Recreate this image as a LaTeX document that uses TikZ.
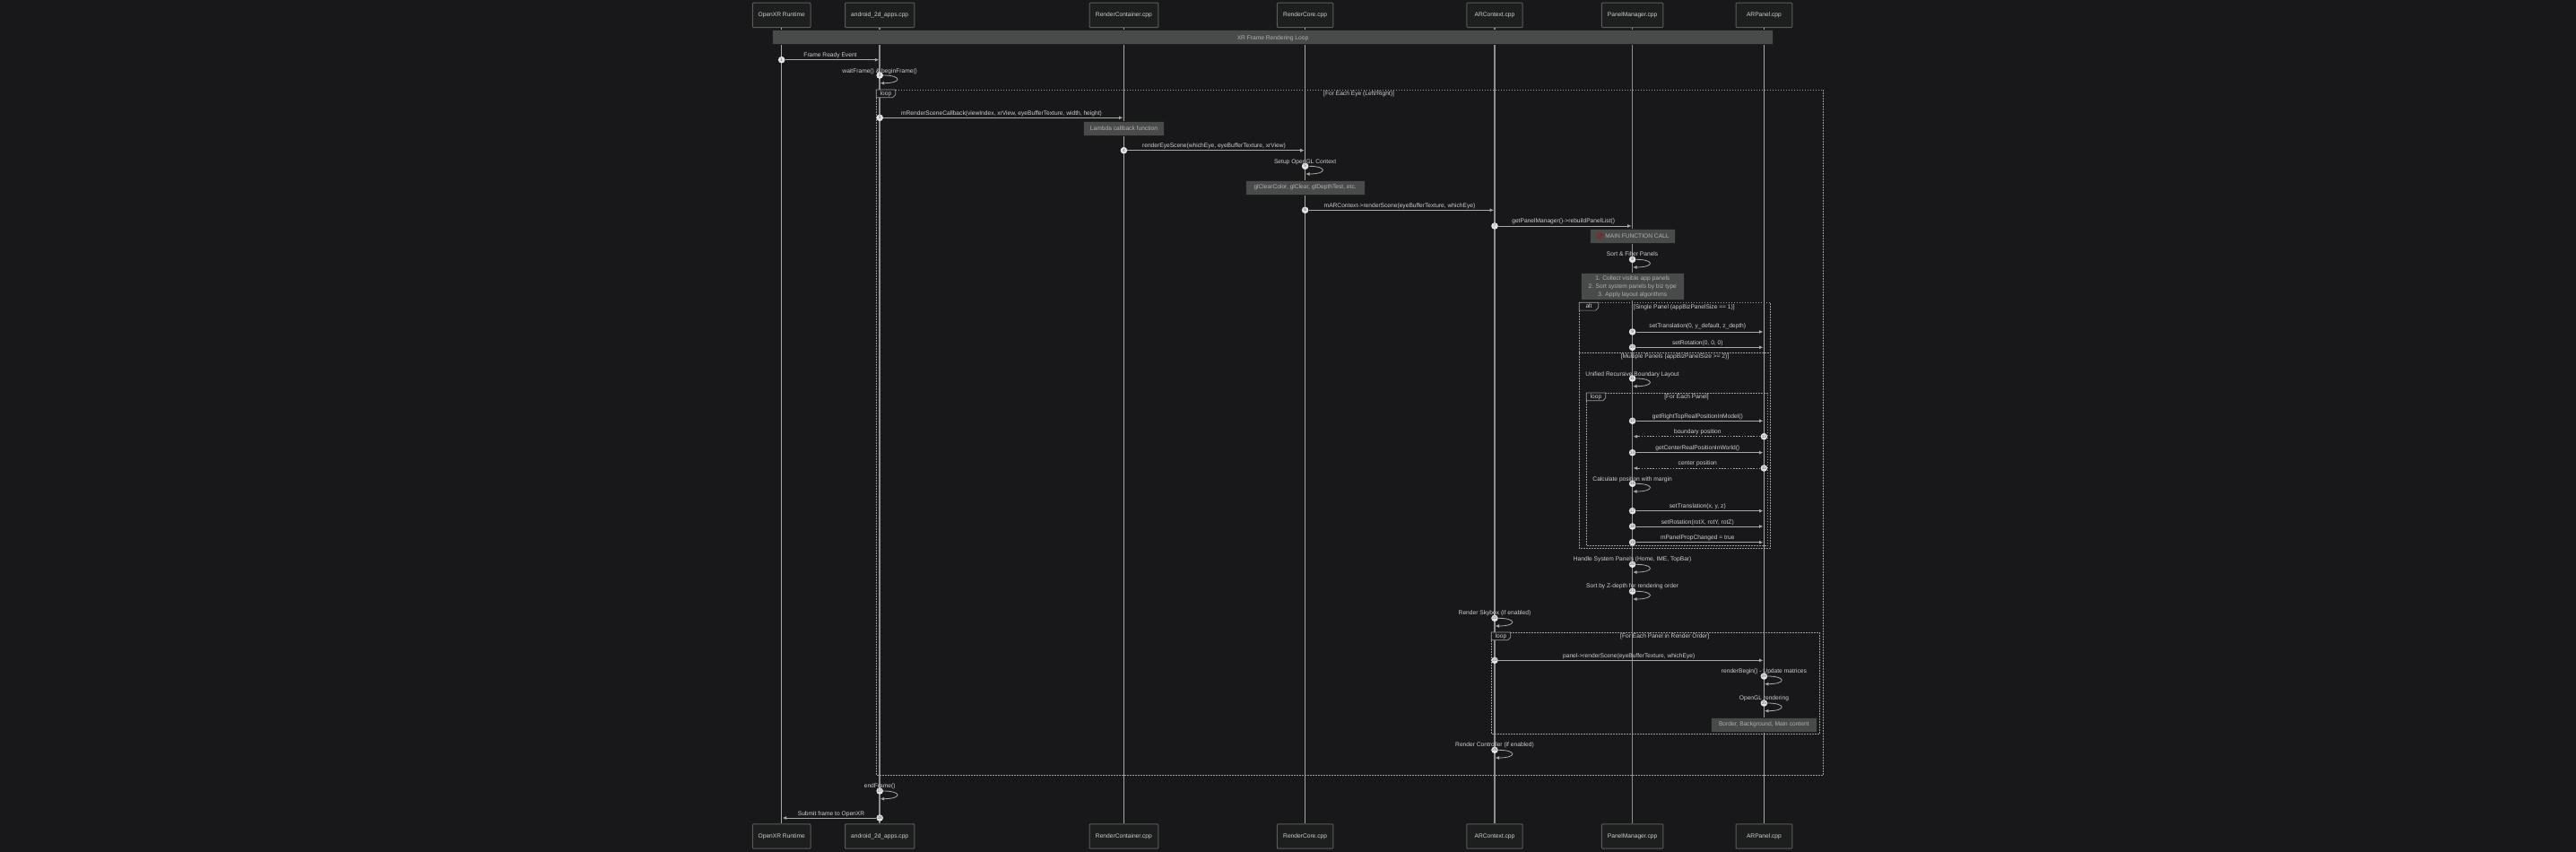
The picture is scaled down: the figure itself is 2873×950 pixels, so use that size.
\documentclass[tikz,border=0pt]{standalone}
\usepackage{fontspec}
\setmainfont{Liberation Sans}
\newfontfamily\emojifont{Noto Emoji}
\usetikzlibrary{arrows.meta}
\definecolor{bgc}{HTML}{18181B}
\definecolor{boxfill}{HTML}{1C1F1E}
\definecolor{boxline}{HTML}{5A5A5A}
\definecolor{notefill}{HTML}{494B4B}
\definecolor{textc}{HTML}{CFCFCF}
\definecolor{lifec}{HTML}{A8A8A8}
\definecolor{dotc}{HTML}{E4E4E4}
\definecolor{framec}{HTML}{9A9A9A}
\tikzset{
  basefont/.style={font=\fontsize{6.65}{7}\selectfont},
  participant/.style={draw=boxline,fill=boxfill,line width=1pt,rounded corners=1pt,inner sep=0pt,text=textc,basefont,minimum height=27.4pt},
  lifeline/.style={draw=lifec,line width=1pt},
  lifethick/.style={draw=lifec!85!black,line width=1.5pt},
  numdot/.style={circle,fill=dotc,inner sep=0pt,minimum size=7.6pt,text=black!60,font=\fontsize{4.8}{5}\selectfont},
  msgline/.style={draw=lifec,line width=1pt,-{Latex[length=4.4pt,width=4pt]},shorten >=1pt},
  backline/.style={draw=lifec,line width=1pt,dash pattern=on 1.6pt off 1.6pt,-{Latex[length=4.4pt,width=4pt]},shorten >=1pt},
  selfline/.style={draw=lifec,line width=.8pt,-{Latex[length=4.4pt,width=4pt]}},
  msglabel/.style={text=textc,basefont,inner sep=0pt,text height=5pt,text depth=1.4pt},
  notebox/.style={fill=notefill,draw=black!60!notefill,line width=.5pt,text=textc!85!black,basefont,inner sep=0pt,align=center},
  framebox/.style={draw=framec,line width=.8pt,dash pattern=on 1.5pt off 1.5pt},
  framedivider/.style={draw=framec,line width=.8pt,dash pattern=on 1.5pt off 1.5pt},
  tabline/.style={draw=framec,line width=.7pt,fill=bgc},
}
\def\xA{871.7}\def\xB{981.2}\def\xC{1253.4}\def\xD{1455.6}\def\xE{1667}\def\xF{1820.6}\def\xG{1967.4}
% num, from x, to x, y, label x, label y, text
\newcommand{\callmsg}[7]{%
  \node[numdot] (n#1) at (#2,#4) {#1};
  \coordinate (e#1) at (#3,#4);
  \draw[msgline] (n#1) -- (e#1);
  \node[msglabel] at (#5,#6) {#7};}
\newcommand{\replymsg}[7]{%
  \node[numdot] (n#1) at (#2,#4) {#1};
  \coordinate (e#1) at (#3,#4);
  \draw[backline] (n#1) -- (e#1);
  \node[msglabel] at (#5,#6) {#7};}
% num, x, y, label y, text
\newcommand{\selfmsg}[5]{%
  \node[numdot] (n#1) at (#2,#3) {#1};
  \coordinate (e#1) at (#2+.6,#3+8.7);
  \draw[selfline] (n#1.east) .. controls (#2+25,#3) and (#2+25,#3+8.7) .. (e#1);
  \node[msglabel] at (#2,#4) {#5};}
% left, right, top, bottom, tab right, kind
\newcommand{\framekind}[6]{%
  \draw[framebox] (#1,#3) rectangle (#2,#4);
  \draw[tabline] (#1,#3) -- (#5,#3) -- (#5,#3+5.6) -- (#5-3,#3+8.8) -- (#1,#3+8.8) -- cycle;
  \node[msglabel] at ({(#1+#5)/2},#3+4.6) {#6};}
\begin{document}
\begin{tikzpicture}[x=1pt,y=-1pt]
\useasboundingbox (0,0) rectangle (2873,950);
\fill[bgc] (0,0) rectangle (2873,950);
% participants
\node[participant,minimum width=64.6pt] (pAt) at (\xA,16.9) {OpenXR Runtime};
\node[participant,minimum width=77.4pt] (pBt) at (\xB,16.9) {android\_2d\_apps.cpp};
\node[participant,minimum width=76.8pt] (pCt) at (\xC,16.9) {RenderContainer.cpp};
\node[participant,minimum width=62.4pt] (pDt) at (\xD,16.9) {RenderCore.cpp};
\node[participant,minimum width=62.4pt] (pEt) at (\xE,16.9) {ARContext.cpp};
\node[participant,minimum width=68.4pt] (pFt) at (\xF,16.9) {PanelManager.cpp};
\node[participant,minimum width=62.8pt] (pGt) at (\xG,16.9) {ARPanel.cpp};
\node[participant,minimum width=64.6pt] (pAb) at (\xA,932.5) {OpenXR Runtime};
\node[participant,minimum width=77.4pt] (pBb) at (\xB,932.5) {android\_2d\_apps.cpp};
\node[participant,minimum width=76.8pt] (pCb) at (\xC,932.5) {RenderContainer.cpp};
\node[participant,minimum width=62.4pt] (pDb) at (\xD,932.5) {RenderCore.cpp};
\node[participant,minimum width=62.4pt] (pEb) at (\xE,932.5) {ARContext.cpp};
\node[participant,minimum width=68.4pt] (pFb) at (\xF,932.5) {PanelManager.cpp};
\node[participant,minimum width=62.8pt] (pGb) at (\xG,932.5) {ARPanel.cpp};
% lifelines
\draw[lifeline] (pAt) -- (pAb);
\draw[lifethick] (pBt) -- (pBb);
\draw[lifeline] (pCt) -- (pCb);
\draw[lifeline] (pDt) -- (pDb);
\draw[lifethick] (pEt) -- (pEb);
\draw[lifethick] (pFt) -- (pFb);
\draw[lifeline] (pGt) -- (pGb);
% top note
\node[notebox,minimum width=1116.4pt,minimum height=15.6pt,text height=6.6pt,text depth=0pt] (noteTop) at (1419.5,41.3) {XR Frame Rendering Loop};
% frames
\framekind{977.3}{2033.4}{100}{864.3}{998.7}{loop}
\node[msglabel] (fEye) at (1515.5,105) {[For Each Eye (Left/Right)]};
\framekind{1761.3}{1974.7}{337.3}{611.3}{1782.7}{alt}
\node[msglabel] (fSingle) at (1878.3,342.7) {[Single Panel (appBizPanelSize == 1)]};
\coordinate (altL) at (1761.3,393);
\coordinate (altR) at (1974.7,393);
\draw[framedivider] (altL) -- (altR);
\node[msglabel] (fMulti) at (1868,397.7) {[Multiple Panels (appBizPanelSize >= 2)]};
\framekind{1769.3}{1971.7}{438}{608.3}{1790.7}{loop}
\node[msglabel] (fPanel) at (1881,442.7) {[For Each Panel]};
\framekind{1663.3}{2029.3}{705}{818.3}{1684.7}{loop}
\node[msglabel] (fOrder) at (1856.7,709.7) {[For Each Panel in Render Order]};
% messages
\callmsg{1}{\xA}{\xB}{66.7}{926}{61.7}{Frame Ready Event}
\selfmsg{2}{\xB}{84}{79.7}{waitFrame() \& beginFrame()}
\callmsg{3}{\xB}{\xC}{131.3}{1117}{126.7}{mRenderSceneCallback(viewIndex, xrView, eyeBufferTexture, width, height)}
\callmsg{4}{\xC}{\xD}{167.7}{1354}{162.7}{renderEyeScene(whichEye, eyeBufferTexture, xrView)}
\selfmsg{5}{\xD}{185.3}{180.3}{Setup OpenGL Context}
\callmsg{6}{\xD}{\xE}{234.3}{1561}{229.7}{mARContext->renderScene(eyeBufferTexture, whichEye)}
\callmsg{7}{\xE}{\xF}{252}{1743.7}{246.7}{getPanelManager()->rebuildPanelList()}
\selfmsg{8}{\xF}{289.3}{283.3}{Sort \& Filter Panels}
\callmsg{9}{\xF}{\xG}{370}{1893.3}{363.7}{setTranslation(0, y\_default, z\_depth)}
\callmsg{10}{\xF}{\xG}{387.3}{1893.3}{382.7}{setRotation(0, 0, 0)}
\selfmsg{11}{\xF}{422}{417.7}{Unified Recursive Boundary Layout}
\callmsg{12}{\xF}{\xG}{469.3}{1893.3}{464.7}{getRightTopRealPositionInModel()}
\replymsg{13}{\xG}{\xF}{486.7}{1893.3}{481.7}{boundary position}
\callmsg{14}{\xF}{\xG}{504.7}{1893.3}{499.7}{getCenterRealPositionInWorld()}
\replymsg{15}{\xG}{\xF}{522}{1893.3}{516.7}{center position}
\selfmsg{16}{\xF}{539.3}{534.3}{Calculate position with margin}
\callmsg{17}{\xF}{\xG}{569.7}{1893.3}{564.7}{setTranslation(x, y, z)}
\callmsg{18}{\xF}{\xG}{587}{1893.3}{582.7}{setRotation(rotX, rotY, rotZ)}
\callmsg{19}{\xF}{\xG}{604.7}{1893.3}{599.7}{mPanelPropChanged = true}
\selfmsg{20}{\xF}{629.3}{623.7}{Handle System Panels (Home, IME, TopBar)}
\selfmsg{21}{\xF}{659.3}{653.7}{Sort by Z-depth for rendering order}
\selfmsg{22}{\xE}{689.3}{683.7}{Render Skybox (if enabled)}
\callmsg{23}{\xE}{\xG}{736.3}{1816.7}{731.7}{panel->renderScene(eyeBufferTexture, whichEye)}
\selfmsg{24}{\xG}{754}{748.7}{renderBegin() - Update matrices}
\selfmsg{25}{\xG}{784}{778.7}{OpenGL rendering}
\selfmsg{26}{\xE}{836.3}{830.7}{Render Controller (if enabled)}
\selfmsg{27}{\xB}{882}{876.7}{endFrame()}
\callmsg{28}{\xB}{\xA}{912}{927}{907.3}{Submit frame to OpenXR}
% notes
\node[notebox,minimum width=89.6pt,minimum height=15.7pt] (noteLambda) at (1253.5,142.9) {Lambda callback function};
\node[notebox,minimum width=133.6pt,minimum height=15.7pt] (noteGl) at (1455.6,208.9) {glClearColor, glClear, glDepthTest, etc.};
\node[notebox,minimum width=95pt,minimum height=16.4pt] (noteMain) at (1820.8,263.5) {{\color{red!75!black}\emojifont 🎯} MAIN FUNCTION CALL};
\node[notebox,minimum width=115pt,minimum height=30pt] (noteSteps) at (1820.8,319.7) {\shortstack{1. Collect visible app panels\\[-.3pt]2. Sort system panels by biz type\\[-.3pt]3. Apply layout algorithms}};
\node[notebox,minimum width=117.3pt,minimum height=15.7pt] (noteBorder) at (1967.3,807.9) {Border, Background, Main content};
\end{tikzpicture}
\end{document}
